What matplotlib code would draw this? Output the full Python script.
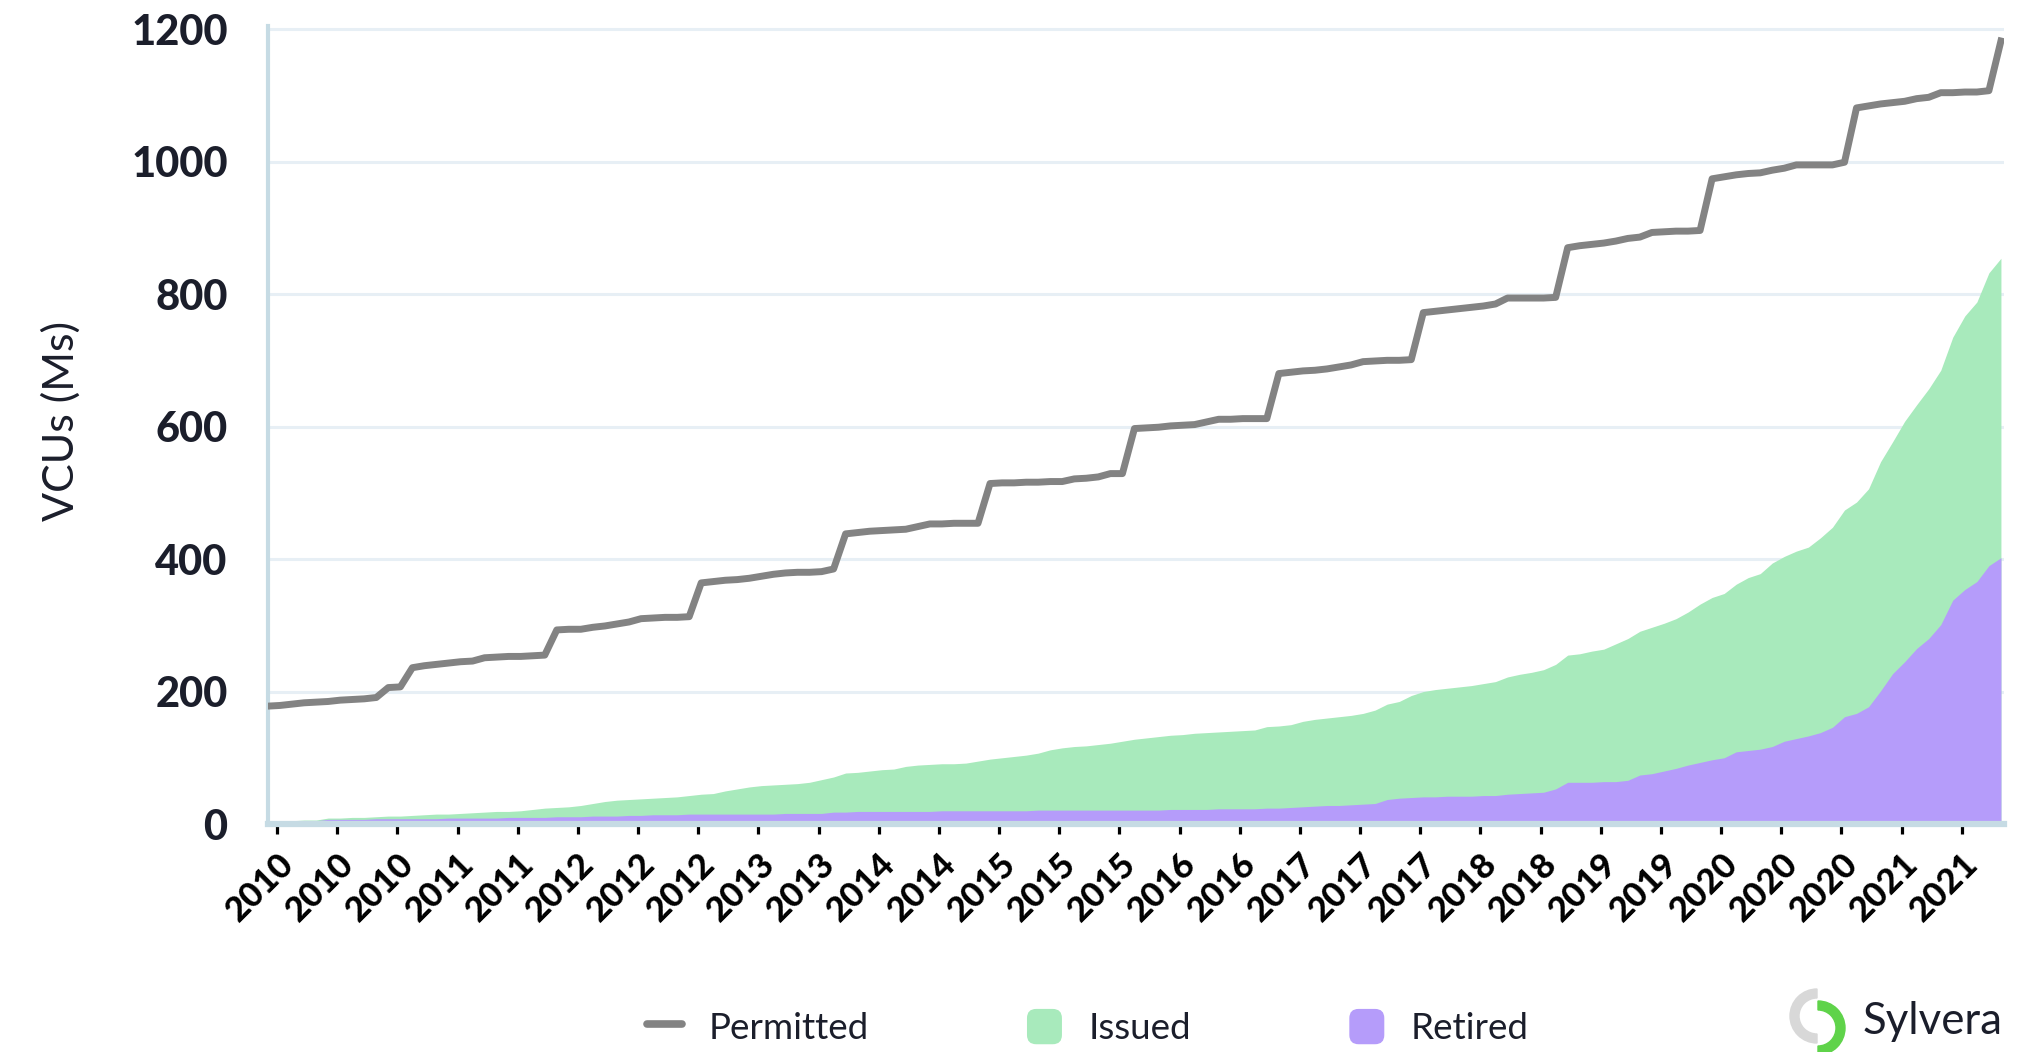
import matplotlib
matplotlib.use("Agg")
import matplotlib.pyplot as plt
from matplotlib.lines import Line2D
from matplotlib.patches import Patch, FancyBboxPatch, Wedge
from matplotlib.legend_handler import HandlerPatch
import numpy as np

# monthly cumulative VCUs (millions), Jan 2010 .. Jan 2022
permitted = [
    178, 179, 181, 183, 184, 185, 187, 188, 189, 191, 206, 207,
    236, 239, 241, 243, 245, 246, 251, 252, 253, 253, 254, 255,
    293, 294, 294, 297, 299, 302, 305, 310, 311, 312, 312, 313,
    364, 366, 368, 369, 371, 374, 377, 379, 380, 380, 381, 385,
    438, 440, 442, 443, 444, 445, 449, 453, 453, 454, 454, 454,
    514, 515, 515, 516, 516, 517, 517, 521, 522, 524, 529, 529,
    597, 598, 599, 601, 602, 603, 607, 611, 611, 612, 612, 612,
    680, 682, 684, 685, 687, 690, 693, 698, 699, 700, 700, 701,
    772, 774, 776, 778, 780, 782, 785, 794, 794, 794, 794, 795,
    870, 873, 875, 877, 880, 884, 886, 893, 894, 895, 895, 896,
    974, 977, 980, 982, 983, 987, 990, 995, 995, 995, 995, 999,
    1081, 1084, 1087, 1089, 1091, 1095, 1097, 1104, 1104, 1105, 1105, 1107,
    1182]

issued = [
    4, 5, 5, 6, 6, 9, 9, 10, 10, 11, 12, 12,
    13, 14, 15, 15, 16, 17, 18, 19, 19, 20, 22, 24,
    25, 26, 28, 31, 34, 36, 37, 38, 39, 40, 41, 43,
    45, 46, 50, 53, 56, 58, 59, 60, 61, 63, 67, 71,
    77, 78, 80, 82, 83, 87, 89, 90, 91, 91, 92, 95,
    98, 100, 102, 104, 107, 112, 115, 117, 118, 120, 122, 125,
    128, 130, 132, 134, 135, 137, 138, 139, 140, 141, 142, 147,
    148, 150, 155, 158, 160, 162, 164, 167, 172, 181, 185, 194,
    200, 203, 205, 207, 209, 212, 215, 222, 226, 229, 233, 241,
    255, 257, 261, 264, 272, 280, 291, 297, 303, 310, 320, 332,
    342, 348, 362, 372, 378, 394, 404, 412, 418, 432, 448, 474,
    486, 506, 547, 577, 608, 633, 657, 685, 735, 767, 788, 832,
    854]

retired = [
    3, 3, 3, 4, 5, 7, 7, 7, 7, 8, 8, 8,
    8, 8, 8, 9, 9, 9, 9, 9, 10, 10, 10, 10,
    11, 11, 11, 12, 12, 12, 13, 13, 14, 14, 14, 15,
    15, 15, 15, 15, 15, 15, 15, 16, 16, 16, 16, 18,
    18, 19, 19, 19, 19, 19, 19, 19, 20, 20, 20, 20,
    20, 20, 20, 20, 21, 21, 21, 21, 21, 21, 21, 21,
    21, 21, 21, 22, 22, 22, 22, 23, 23, 23, 23, 24,
    24, 25, 26, 27, 28, 28, 29, 30, 31, 37, 39, 40,
    41, 41, 42, 42, 42, 43, 43, 45, 46, 47, 48, 53,
    63, 63, 63, 64, 64, 66, 74, 76, 80, 84, 89, 93,
    97, 100, 109, 111, 113, 117, 125, 129, 133, 138, 146, 162,
    167, 177, 201, 227, 245, 265, 280, 301, 338, 354, 366, 390,
    402]

tick_labels = ["2010", "2010", "2010", "2011", "2011", "2012", "2012", "2012",
               "2013", "2013", "2014", "2014", "2015", "2015", "2015", "2016",
               "2016", "2017", "2017", "2017", "2018", "2018", "2019", "2019",
               "2020", "2020", "2020", "2021", "2021"]
y_ticks = [0, 200, 400, 600, 800, 1000, 1200]

GRAY = "#838383"
GREEN = "#a8eabc"
PURPLE = "#b59cfa"
DARK = "#1b1e2b"
AXIS = "#c6dbe4"
GRID = "#e7eff5"

plt.rcParams['font.family'] = ['Lato', 'DejaVu Sans']

months = np.arange(len(permitted))
tick_pos = np.arange(len(tick_labels)) * 5 + 0.75

fig = plt.figure(figsize=(20.44, 10.52), dpi=100)
ax = fig.add_axes([0.1311, 0.2167, 0.8493, 0.7588])

ax.fill_between(months, issued, color=GREEN, lw=0, zorder=2)
ax.fill_between(months, retired, color=PURPLE, lw=0, zorder=3)
ax.plot(months, permitted, color=GRAY, lw=5, zorder=4)

ax.set_xlim(0, 144.25)
ax.set_ylim(0, 1205)
ax.set_yticks(y_ticks)
ax.set_yticklabels([str(v) for v in y_ticks], fontsize=30, fontweight="black", color=DARK)
ax.set_xticks(tick_pos)
ax.set_xticklabels(tick_labels, rotation=45, ha="right", rotation_mode="anchor",
                   fontsize=25, fontweight="black", color="#000000")
ax.tick_params(axis="y", length=0, pad=29)
ax.tick_params(axis="x", length=7, width=2.3, color="#000000", pad=10)

ax.yaxis.grid(True, color=GRID, lw=2.2)
ax.set_axisbelow(True)
for s in ("top", "right"):
    ax.spines[s].set_visible(False)
ax.spines["left"].set_color(AXIS)
ax.spines["left"].set_linewidth(3)
ax.spines["bottom"].set_color(AXIS)
ax.spines["bottom"].set_linewidth(4.5)
ax.spines["bottom"].set_zorder(5)

ax.set_ylabel("VCUs (Ms)", fontsize=31, color=DARK)
ax.yaxis.set_label_coords(-0.108, 0.505)


def round_box(legend, orig_handle, xdescent, ydescent, width, height, fontsize):
    return FancyBboxPatch((-xdescent, -ydescent), width, height,
                          boxstyle="round,pad=0,rounding_size=%f" % (fontsize * 0.25))


handles = [Line2D([], [], color=GRAY, lw=5.5, solid_capstyle="round"),
           Patch(facecolor=GREEN, edgecolor="none"),
           Patch(facecolor=PURPLE, edgecolor="none")]
fig.legend(handles, ["Permitted", "Issued", "Retired"],
           loc="center left", bbox_to_anchor=(647 / 2044, 25 / 1052),
           ncol=3, frameon=False, fontsize=26.5, labelcolor=DARK,
           handlelength=0.95, handleheight=1.1, handletextpad=0.72,
           columnspacing=4.3, borderpad=0, borderaxespad=0,
           handler_map={Patch: HandlerPatch(patch_func=round_box)})

# Sylvera logo
lax = fig.add_axes([1778 / 2044, -13 / 1052, 80 / 2044, 80 / 1052])
lax.set_xlim(0, 80)
lax.set_ylim(0, 80)
lax.axis("off")
lax.add_patch(Wedge((39, 49), 27, 90, 270, width=9, color="#d8d8d8"))
lax.add_patch(Wedge((40, 37), 27, -90, 90, width=9, color="#5fd34a"))
fig.text(1863 / 2044, 18 / 1052, "Sylvera", fontsize=31.5, color=DARK,
         ha="left", va="baseline")

fig.savefig("out.png", dpi=100)
